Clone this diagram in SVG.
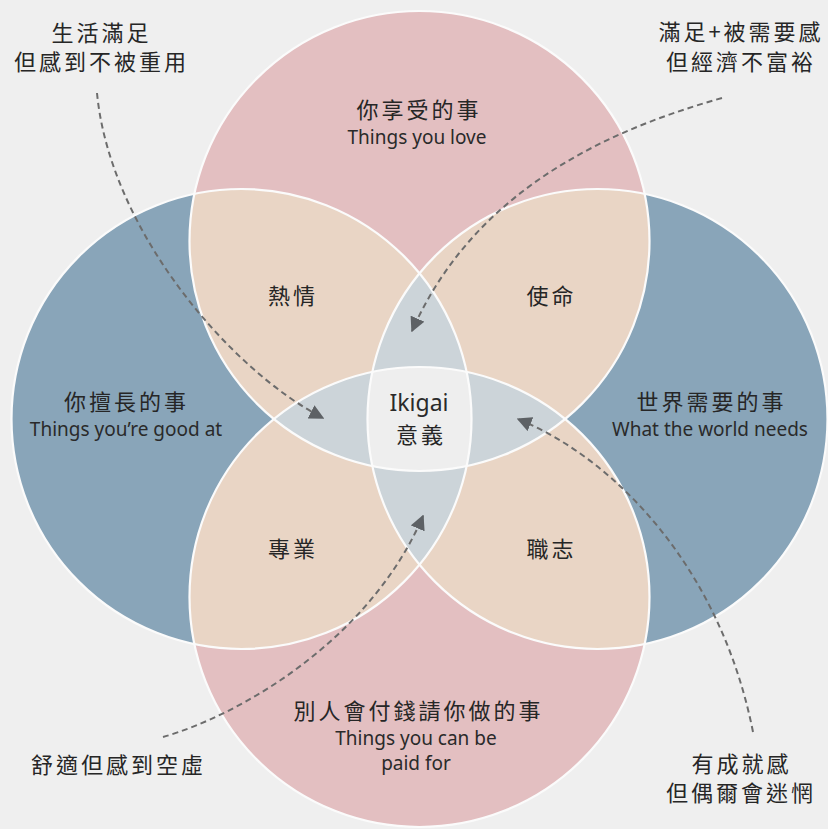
<svg xmlns="http://www.w3.org/2000/svg" width="828" height="829" viewBox="0 0 828 829">
<style>
.cjk{font-family:"Noto Sans CJK TC","Noto Sans CJK SC",sans-serif;fill:#262626;text-anchor:middle}
.main{font-size:22px;letter-spacing:3px}
.corner{font-size:22px;letter-spacing:3px}
.en{font-family:"Noto Sans","Open Sans",sans-serif;font-size:19px;fill:#2a2a2a;letter-spacing:0}
.edge{fill:none;stroke:#fbfbfb;stroke-width:2.2}
.dash{fill:none;stroke:#6c6c6c;stroke-width:2;stroke-dasharray:6 4;marker-end:url(#ah)}
</style>
<defs>
<clipPath id="cT"><circle cx="419.5" cy="241" r="230"/></clipPath>
<clipPath id="cB"><circle cx="419.5" cy="597" r="230"/></clipPath>
<clipPath id="cR"><circle cx="597.5" cy="419" r="230"/></clipPath>
<marker id="ah" viewBox="0 0 10 10" refX="9" refY="5" markerWidth="15" markerHeight="15" markerUnits="userSpaceOnUse" orient="auto"><path d="M0,0 L10,5 L0,10 Z" fill="#5d6165"/></marker>
</defs>
<rect width="828" height="829" fill="#efefef"/>
<g id="venn">
<g id="circle-love"><circle cx="419.5" cy="241" r="230" fill="#e3bfc1"/></g>
<g id="circle-paid"><circle cx="419.5" cy="597" r="230" fill="#e3bfc1"/></g>
<g id="circle-good"><circle cx="241.5" cy="419" r="230" fill="#89a5b9"/></g>
<g id="circle-needs"><circle cx="597.5" cy="419" r="230" fill="#89a5b9"/></g>
<g id="region-passion"><circle cx="241.5" cy="419" r="230" fill="#e9d5c5" clip-path="url(#cT)"/></g>
<g id="region-mission"><circle cx="597.5" cy="419" r="230" fill="#e9d5c5" clip-path="url(#cT)"/></g>
<g id="region-profession"><circle cx="241.5" cy="419" r="230" fill="#e9d5c5" clip-path="url(#cB)"/></g>
<g id="region-vocation"><circle cx="597.5" cy="419" r="230" fill="#e9d5c5" clip-path="url(#cB)"/></g>
<g id="lens-h"><circle cx="419.5" cy="241" r="230" fill="#ccd4d9" clip-path="url(#cB)"/></g>
<g id="lens-v"><circle cx="241.5" cy="419" r="230" fill="#ccd4d9" clip-path="url(#cR)"/></g>
<g id="region-ikigai"><path d="M372.4,371.9 A230,230 0 0 1 466.6,371.9 A230,230 0 0 1 466.6,466.1 A230,230 0 0 1 372.4,466.1 A230,230 0 0 1 372.4,371.9 Z" fill="#eeeeee"/></g>
<g id="outlines">
<circle class="edge" cx="419.5" cy="241" r="230"/>
<circle class="edge" cx="419.5" cy="597" r="230"/>
<circle class="edge" cx="241.5" cy="419" r="230"/>
<circle class="edge" cx="597.5" cy="419" r="230"/>
</g>
</g>
<g id="connectors">
<path class="dash" d="M97,93 C110,230 230,370 323,418"/>
<path class="dash" d="M722,98 C590,135 470,200 412,331"/>
<path class="dash" d="M163,737 C240,715 370,640 423,516"/>
<path class="dash" d="M753,732 C722,575 622,462 518,419"/>
</g>
<g id="node-love">
<text class="cjk main"><tspan x="419" y="117.5">你享受的事</tspan><tspan class="en" x="417" y="143.5">Things you love</tspan></text>
</g>
<g id="node-good">
<text class="cjk main"><tspan x="126.5" y="409.5">你擅長的事</tspan><tspan class="en" x="126" y="435.5">Things you’re good at</tspan></text>
</g>
<g id="node-needs">
<text class="cjk main"><tspan x="711.5" y="409.5">世界需要的事</tspan><tspan class="en" x="710" y="435.5">What the world needs</tspan></text>
</g>
<g id="node-paid">
<text class="cjk main"><tspan x="418.5" y="719">別人會付錢請你做的事</tspan><tspan class="en" x="416" y="745">Things you can be</tspan><tspan class="en" x="416" y="770">paid for</tspan></text>
</g>
<g id="node-passion"><text class="cjk main" x="293" y="303.5">熱情</text></g>
<g id="node-mission"><text class="cjk main" x="551.5" y="303.5">使命</text></g>
<g id="node-profession"><text class="cjk main" x="293" y="557">專業</text></g>
<g id="node-vocation"><text class="cjk main" x="551.5" y="557">職志</text></g>
<g id="node-ikigai">
<text class="cjk main"><tspan class="en" x="419" y="410.5" style="font-size:23px">Ikigai</tspan><tspan x="421" y="443">意義</tspan></text>
</g>
<g id="label-tl">
<text class="cjk corner"><tspan x="101.5" y="40.5">生活滿足</tspan><tspan x="101.5" y="70">但感到不被重用</tspan></text>
</g>
<g id="label-tr">
<text class="cjk corner"><tspan x="741" y="40">滿足+被需要感</tspan><tspan x="741" y="70">但經濟不富裕</tspan></text>
</g>
<g id="label-bl">
<text class="cjk corner" x="118.5" y="773">舒適但感到空虛</text>
</g>
<g id="label-br">
<text class="cjk corner"><tspan x="741.5" y="772">有成就感</tspan><tspan x="741" y="801">但偶爾會迷惘</tspan></text>
</g>
</svg>
